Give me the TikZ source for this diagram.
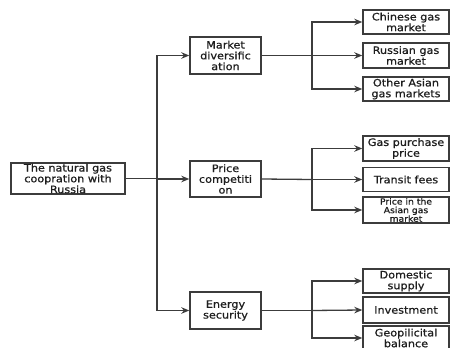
\documentclass[tikz,border=0pt]{standalone}
\usepackage{fontspec}
\setmainfont[FakeStretch=1.1,FakeBold=0.8]{DejaVu Sans}
\usetikzlibrary{arrows.meta}
\definecolor{linec}{HTML}{3C3C3C}
\definecolor{textc}{HTML}{1E1E1E}
\tikzset{
  box/.style={draw=linec, line width=1.4pt, inner sep=0pt, align=center, text=textc,
    font=\fontsize{10.2}{10.8}\selectfont},
  midbox/.style={box, minimum width=71pt},
  leafbox/.style={box, minimum width=86pt},
  conn/.style={draw=linec, line width=1.3pt},
  arr/.style={conn, -{Stealth[length=8pt,width=6.5pt]}},
}
\begin{document}
\begin{tikzpicture}[x=1pt,y=-1pt]
\useasboundingbox (0,0) rectangle (451,348);
\clip (0,0) rectangle (451,348);
\fill[white] (0,0) rectangle (451,348);
% root
\node[box, minimum width=114pt, minimum height=31pt] (root) at (68,178.5) {The natural gas\\coopration with\\Russia};
% middle
\node[midbox, minimum height=37pt] (m1) at (225.5,55.5) {Market\\diversific\\ation};
\node[midbox, minimum height=36pt] (m2) at (225.5,179) {Price\\competiti\\on};
\node[midbox, minimum height=37pt] (m3) at (225.5,310.5) {Energy\\security};
% leaves
\node[leafbox, minimum height=24pt] (a1) at (406,22) {Chinese gas\\market};
\node[leafbox, minimum height=25pt] (a2) at (406,55.5) {Russian gas\\market};
\node[leafbox, minimum height=24pt] (a3) at (406,89) {Other Asian\\gas markets};
\node[leafbox, minimum height=25pt] (b1) at (406,148.5) {Gas purchase\\price};
\node[leafbox, minimum height=24pt] (b2) at (406,179.5) {Transit fees};
\node[leafbox, minimum height=26pt, font=\fontsize{8.4}{8.6}\selectfont] (b3) at (406,210) {Price in the\\Asian gas\\market};
\node[leafbox, minimum height=24pt] (c1) at (406,281) {Domestic\\supply};
\node[leafbox, minimum height=26pt] (c2) at (406,310) {Investment};
\node[leafbox, minimum height=24pt] (c3) at (406,338) {Geopilicital\\balance};
% junctions
\coordinate (j0) at (157,178.5);
\coordinate (ja) at (312,55.5);
\coordinate (jb) at (312,179.5);
\coordinate (jc) at (312,310.5);
% connectors
\draw[conn] (root.east) -- (j0);
\draw[arr] (j0) |- (m1.west);
\draw[arr] (j0) |- (m2.west);
\draw[arr] (j0) |- (m3.west);
\draw[conn] (m1.east) -- (ja);
\draw[arr] (ja) |- (a1.west);
\draw[arr] (ja) -- (a2.west);
\draw[arr] (ja) |- (a3.west);
\draw[conn] (m2.east) -- (jb);
\draw[arr] (jb) |- (b1.west);
\draw[arr] (jb) -- (b2.west);
\draw[arr] (jb) |- (b3.west);
\draw[conn] (m3.east) -- (jc);
\draw[arr] (jc) |- (c1.west);
\draw[arr] (jc) -- (c2.west);
\draw[arr] (jc) |- (c3.west);
\end{tikzpicture}
\end{document}
